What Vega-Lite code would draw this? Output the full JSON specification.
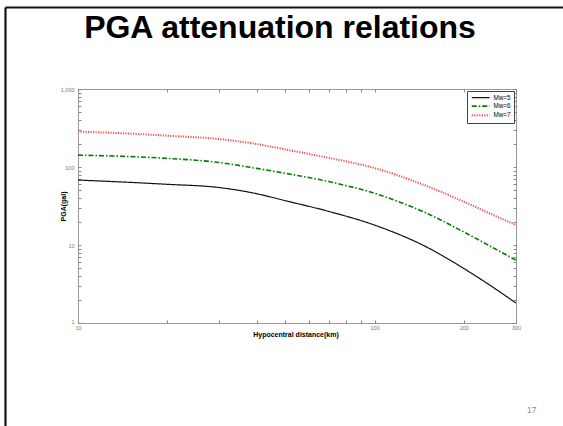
{
  "$schema": "https://vega.github.io/schema/vega-lite/v6.json",
  "width": 438,
  "height": 234,
  "autosize": {"type": "none"},
  "padding": {"left": 78, "top": 89, "right": 47, "bottom": 103},
  "background": "white",
  "config": {
    "view": {"stroke": "#999999", "strokeWidth": 1},
    "font": "Liberation Sans"
  },
  "title": {
    "text": "PGA attenuation relations",
    "font": "Liberation Sans",
    "fontSize": 32,
    "fontWeight": "bold",
    "color": "#000000",
    "anchor": "middle",
    "frame": "group",
    "dx": -17,
    "baseline": "alphabetic",
    "offset": -63
  },
  "data": {
    "values": [
      {"series": "Mw=5", "dist": 10, "pga": 68},
      {"series": "Mw=5", "dist": 15, "pga": 63.5},
      {"series": "Mw=5", "dist": 20, "pga": 60},
      {"series": "Mw=5", "dist": 30, "pga": 54.5},
      {"series": "Mw=5", "dist": 40, "pga": 45.5},
      {"series": "Mw=5", "dist": 50, "pga": 37},
      {"series": "Mw=5", "dist": 70, "pga": 27},
      {"series": "Mw=5", "dist": 100, "pga": 18},
      {"series": "Mw=5", "dist": 150, "pga": 9.4},
      {"series": "Mw=5", "dist": 200, "pga": 5.0},
      {"series": "Mw=5", "dist": 250, "pga": 2.9},
      {"series": "Mw=5", "dist": 300, "pga": 1.8},
      {"series": "Mw=6", "dist": 10, "pga": 142},
      {"series": "Mw=6", "dist": 15, "pga": 136},
      {"series": "Mw=6", "dist": 20, "pga": 129},
      {"series": "Mw=6", "dist": 30, "pga": 114},
      {"series": "Mw=6", "dist": 40, "pga": 96},
      {"series": "Mw=6", "dist": 50, "pga": 83},
      {"series": "Mw=6", "dist": 70, "pga": 65},
      {"series": "Mw=6", "dist": 100, "pga": 46},
      {"series": "Mw=6", "dist": 150, "pga": 25.5},
      {"series": "Mw=6", "dist": 200, "pga": 14.7},
      {"series": "Mw=6", "dist": 250, "pga": 9.3},
      {"series": "Mw=6", "dist": 300, "pga": 6.4},
      {"series": "Mw=7", "dist": 10, "pga": 284},
      {"series": "Mw=7", "dist": 15, "pga": 268},
      {"series": "Mw=7", "dist": 20, "pga": 252},
      {"series": "Mw=7", "dist": 30, "pga": 228},
      {"series": "Mw=7", "dist": 40, "pga": 197},
      {"series": "Mw=7", "dist": 50, "pga": 168},
      {"series": "Mw=7", "dist": 70, "pga": 131},
      {"series": "Mw=7", "dist": 100, "pga": 97},
      {"series": "Mw=7", "dist": 150, "pga": 57},
      {"series": "Mw=7", "dist": 200, "pga": 36},
      {"series": "Mw=7", "dist": 250, "pga": 24.5},
      {"series": "Mw=7", "dist": 300, "pga": 18}
    ]
  },
  "resolve": {
    "scale": {"x": "independent", "y": "independent"},
    "axis": {"x": "independent", "y": "independent"}
  },
  "layer": [
    {
      "mark": {"type": "line", "interpolate": "monotone", "clip": true},
      "encoding": {
        "x": {
          "field": "dist", "type": "quantitative",
          "scale": {"type": "log", "domain": [10, 300], "nice": false},
          "axis": {
            "orient": "bottom",
            "values": [10, 20, 30, 40, 50, 60, 70, 80, 90, 100, 200, 300],
            "format": ",",
            "labelExpr": "indexof([10,100,200,300], datum.value) >= 0 ? datum.label : ''",
            "labelOverlap": false,
            "labelFlush": false,
            "domain": false,
            "grid": false,
            "tickSize": -3,
            "tickColor": "#888888",
            "labelFontSize": 5.5,
            "labelColor": "#777777",
            "labelPadding": 5.5,
            "title": "Hypocentral distance(km)",
            "titleFontSize": 7,
            "titleFontWeight": "bold",
            "titleColor": "#000000",
            "titleX": 217.5,
            "titleY": 11,
            "titleBaseline": "middle",
            "titleAlign": "center"
          }
        },
        "y": {
          "field": "pga", "type": "quantitative",
          "scale": {"type": "log", "domain": [1, 1000], "nice": false},
          "axis": {
            "orient": "left",
            "values": [1, 2, 3, 4, 5, 6, 7, 8, 9, 10, 20, 30, 40, 50, 60, 70, 80, 90, 100, 200, 300, 400, 500, 600, 700, 800, 900, 1000],
            "format": ",",
            "labelExpr": "indexof([1,10,100,1000], datum.value) >= 0 ? datum.label : ''",
            "labelOverlap": false,
            "labelFlush": false,
            "labelOffset": {"condition": {"test": "datum.value == 1", "value": -1.5}, "value": 0},
            "domain": false,
            "grid": false,
            "tickSize": -3,
            "tickColor": "#888888",
            "labelFontSize": 5.5,
            "labelColor": "#777777",
            "labelPadding": 7,
            "title": "PGA(gal)",
            "titleFontSize": 7,
            "titleFontWeight": "bold",
            "titleColor": "#000000",
            "titleAngle": -90,
            "titleX": -14.5,
            "titleY": 117,
            "titleBaseline": "middle",
            "titleAlign": "center"
          }
        },
        "color": {
          "field": "series", "type": "nominal",
          "scale": {"domain": ["Mw=5", "Mw=6", "Mw=7"], "range": ["#111111", "#008000", "#ff4a4a"]},
          "legend": {
            "title": null,
            "orient": "top-right",
            "offset": 2,
            "strokeColor": "#444444",
            "fillColor": "#ffffff",
            "padding": 3.5,
            "cornerRadius": 0,
            "symbolType": "M-4,0H4",
            "symbolSize": 20,
            "symbolOffset": 6.7,
            "labelFontSize": 6.3,
            "labelColor": "#000000",
            "labelOffset": 9.3,
            "rowPadding": 1.1
          }
        },
        "strokeDash": {
          "field": "series", "type": "nominal",
          "scale": {"domain": ["Mw=5", "Mw=6", "Mw=7"], "range": [[1, 0], [5, 2, 1.5, 2], [1.2, 1.3]]}
        },
        "strokeWidth": {
          "field": "series", "type": "nominal",
          "scale": {"domain": ["Mw=5", "Mw=6", "Mw=7"], "range": [1.2, 2, 1]}
        }
      }
    },
    {
      "mark": {"type": "line", "opacity": 0},
      "encoding": {
        "x": {
          "field": "dist", "type": "quantitative",
          "scale": {"type": "log", "domain": [10, 300], "nice": false},
          "axis": {
            "orient": "top",
            "values": [10, 20, 30, 40, 50, 60, 70, 80, 90, 100, 200, 300],
            "labels": false,
            "domain": false,
            "grid": false,
            "tickSize": -3,
            "tickColor": "#888888",
            "title": null
          }
        },
        "y": {
          "field": "pga", "type": "quantitative",
          "scale": {"type": "log", "domain": [1, 1000], "nice": false},
          "axis": {
            "orient": "right",
            "values": [1, 2, 3, 4, 5, 6, 7, 8, 9, 10, 20, 30, 40, 50, 60, 70, 80, 90, 100, 200, 300, 400, 500, 600, 700, 800, 900, 1000],
            "labels": false,
            "domain": false,
            "grid": false,
            "tickSize": -3,
            "tickColor": "#888888",
            "title": "17",
            "titleAngle": 0,
            "titleFontSize": 8.5,
            "titleFontWeight": "normal",
            "titleColor": "#8c8c8c",
            "titleX": 10.5,
            "titleY": 323.7,
            "titleAlign": "left",
            "titleBaseline": "alphabetic"
          }
        },
        "detail": {"field": "series", "type": "nominal"}
      }
    },
    {
      "mark": {"type": "line", "opacity": 0, "clip": true},
      "encoding": {
        "x": {
          "field": "dist", "type": "quantitative",
          "scale": {"type": "linear", "domain": [0, 1], "range": [-73, 490], "nice": false, "zero": false},
          "axis": {
            "orient": "top",
            "offset": 82,
            "domain": true,
            "domainColor": "#151515",
            "domainWidth": 2.2,
            "ticks": false,
            "labels": false,
            "grid": false,
            "title": null
          }
        },
        "y": {
          "field": "pga", "type": "quantitative",
          "scale": {"type": "linear", "domain": [0, 1], "range": [345, -82], "nice": false, "zero": false},
          "axis": {
            "orient": "left",
            "offset": 73,
            "domain": true,
            "domainColor": "#151515",
            "domainWidth": 2.2,
            "ticks": false,
            "labels": false,
            "grid": false,
            "title": null
          }
        },
        "detail": {"field": "series", "type": "nominal"}
      }
    }
  ]
}
